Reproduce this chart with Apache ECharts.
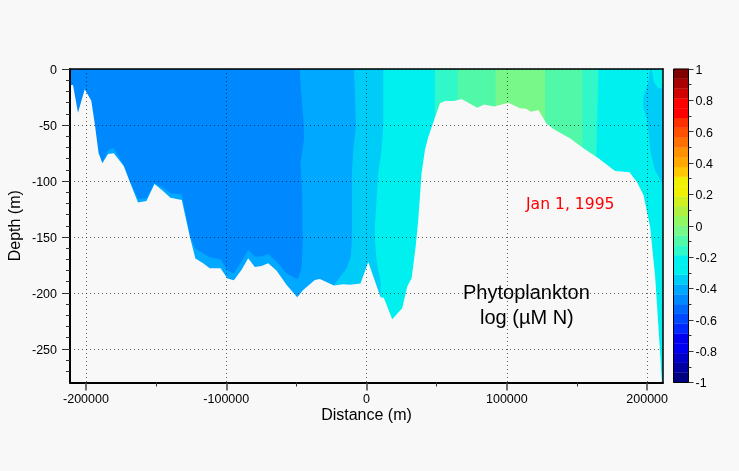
<!DOCTYPE html>
<html>
<head>
<meta charset="utf-8">
<style>html,body{margin:0;padding:0;background:#f8f8f8}#c{width:739px;height:471px}</style>
<script src="https://cdn.jsdelivr.net/npm/echarts@6/dist/echarts.min.js"></script>
</head>
<body>
<div id="c"></div>
<script>
// Axis ticks (data units)
var xMajorTicks = [-200000, -100000, 0, 100000, 200000];
var xMinorTicks = [-150000, -50000, 50000, 150000];
var yMajorTicks = [0, -50, -100, -150, -200, -250];
var yMinorTicks = [-10,-20,-30,-40,-60,-70,-80,-90,-110,-120,-130,-140,-160,-170,-180,-190,-210,-220,-230,-240,-260,-270];
var xMin = -211400, xMax = 211300, yMin = -280, yMax = 0;

// Sea floor (distance m, depth m)
var seaFloor = [[-212000,-14.3],[-209250,-14.3],[-205700,-39],[-200900,-18.1],[-196200,-28.3],[-193800,-48.5],[-191000,-75.3],[-188300,-84.2],[-184300,-75.9],[-180200,-75.3],[-173100,-86.6],[-168800,-100.6],[-162900,-119.3],[-156900,-117.8],[-151200,-102.7],[-145500,-108.6],[-139800,-114.9],[-131700,-117],[-126000,-149.7],[-122000,-169.3],[-116500,-173.5],[-111800,-178],[-104100,-178],[-99150,-187.2],[-94600,-188.7],[-89200,-179.5],[-84400,-169],[-79650,-176.8],[-74900,-175.9],[-70150,-173.5],[-64200,-180],[-57100,-192.8],[-49450,-203.9],[-45200,-197.3],[-36850,-188.4],[-33300,-187.5],[-23300,-193.4],[-16600,-192.2],[-11900,-192.8],[-4300,-191.6],[1200,-172.3],[10000,-203.9],[12350,-204.5],[18300,-223.5],[25400,-213.7],[29000,-194.3],[32100,-186.9],[35000,-158.6],[36850,-134.8],[39200,-93.2],[41600,-72.3],[44000,-60.4],[52300,-30.7],[55900,-28.6],[62300,-28.6],[67800,-26.8],[72500,-30.1],[78900,-34.5],[83900,-31.8],[90800,-33.6],[101100,-30.1],[109400,-35.1],[113700,-35.4],[117200,-38.1],[122500,-36.6],[128400,-49.1],[134300,-54.5],[145000,-61.9],[154550,-70.8],[165250,-79.8],[177150,-91.1],[187400,-92.3],[192600,-100.6],[197400,-112.5],[202100,-140.8],[205700,-185.4],[209250,-253.8],[210450,-279],[210450,-285],[-212000,-285]];

// Contour bands, painted in this order (distance m, depth m)
var bandBase = [[-212000,0],[212000,0],[212000,-285],[-212000,-285]];
var bandLow = [[-47550,0],[-47100,-12.8],[-45650,-36.6],[-44700,-50],[-44700,-63.4],[-47100,-84.2],[-45900,-111],[-45650,-158.6],[-46350,-178],[-48750,-186.9],[-49450,-187.5],[-57100,-182.4],[-64200,-172],[-70150,-165.2],[-74900,-167.5],[-79650,-167.5],[-84400,-161.6],[-89200,-172],[-94600,-182.4],[-99150,-180],[-104100,-170],[-111800,-168.1],[-116500,-164.6],[-122000,-160.4],[-126000,-148.2],[-131700,-111.9],[-139800,-111],[-145500,-105.6],[-151200,-102],[-156900,-115.5],[-162900,-115.8],[-168800,-99.7],[-173100,-85.7],[-180200,-70.8],[-184300,-72.3],[-188300,-83.6],[-191000,-74.7],[-195000,-60],[-212000,-60],[-212000,0]];
var bandMidA = [[-9030,0],[-8300,-21.7],[-7600,-50],[-9500,-72.3],[-10450,-93.2],[-10450,-151],[-11200,-167.5],[-14250,-178],[-23300,-193.4],[-23300,-285],[212000,-285],[212000,0]];
var bandMidB = [[11880,0],[11880,-50],[10700,-72.3],[8300,-93.2],[5900,-140.8],[5900,-152.7],[7100,-170.5],[10000,-190],[10000,-285],[212000,-285],[212000,0]];
var bandHighA = [[48700,0],[165250,0],[163600,-85],[48700,-85]];
var bandHighB = [[64900,0],[153850,0],[153850,-85],[64900,-85]];
var bandHighC = [[92000,0],[127200,0],[127200,-60],[92000,-60]];
var bandEdge = [[202100,0],[200900,-11.9],[197300,-25.3],[197300,-34.2],[199700,-44.6],[200900,-55],[202600,-75.9],[205650,-90.8],[211100,-102.7],[212000,-103],[212000,-17.9],[208000,-17],[204900,-11.9],[203500,-1.5],[204000,0]];

// Colour scale
var scaleMin = -1, scaleStep = 0.0625;
var scaleColors = ['#000080','#0000a0','#0000c8','#0000f0','#0000f0','#0028ff','#0048ff','#0068ff','#0088ff','#00a8ff','#00ccf8','#00f0f0','#00f0f0','#30f8c8','#50f8a8','#78f888','#90f860','#b0f040','#d0f020','#f0f000','#f0f000','#ffc800','#ffa800','#ff9000','#ff7000','#ff5000','#ff3000','#ff0000','#ff0000','#d00000','#a80000','#800000'];

function poly(points, color) {
  return {
    type: 'custom', coordinateSystem: 'cartesian2d', xAxisIndex: 0, yAxisIndex: 0,
    clip: true, silent: true, animation: false, data: points,
    renderItem: function (params, api) {
      if (params.dataIndex !== 0) return null;
      return { type: 'polygon',
        shape: { points: points.map(function (p) { return api.coord(p); }) },
        style: { fill: color } };
    }
  };
}
var scaleData = scaleColors.map(function (c, i) {
  return [scaleMin + i * scaleStep, scaleMin + (i + 1) * scaleStep];
});
var scaleSeries = {
  type: 'custom', coordinateSystem: 'cartesian2d', xAxisIndex: 3, yAxisIndex: 3,
  silent: true, animation: false, data: scaleData,
  encode: { y: [0, 1] },
  renderItem: function (params, api) {
    var a = api.coord([0, api.value(1)]), b = api.coord([1, api.value(0)]);
    return { type: 'rect', shape: { x: a[0], y: a[1], width: b[0] - a[0], height: b[1] - a[1] },
      style: { fill: scaleColors[params.dataIndex], stroke: scaleColors[params.dataIndex], lineWidth: 0.3 } };
  }
};
var scaleFrame = {
  type: 'custom', coordinateSystem: 'cartesian2d', xAxisIndex: 3, yAxisIndex: 3, z: 4,
  silent: true, animation: false, data: [[-1, 1]],
  renderItem: function (params, api) {
    var a = api.coord([0, 1]), b = api.coord([1, -1]);
    return { type: 'rect', shape: { x: a[0], y: a[1], width: b[0] - a[0], height: b[1] - a[1] },
      style: { fill: 'none', stroke: '#000', lineWidth: 1 } };
  }
};
var font = 'Liberation Sans, Arial, sans-serif';
var hidden = { show: false };
var option = {
  animation: false,
  backgroundColor: '#f8f8f8',
  grid: [
    { left: 70, top: 69, width: 593, height: 313.5, outerBoundsMode: 'none' },
    { left: 673.5, top: 69, width: 15, height: 313.5, outerBoundsMode: 'none' }
  ],
  xAxis: [
    { type: 'value', gridIndex: 0, position: 'bottom', min: xMin, max: xMax, z: 5,
      axisLine: { onZero: false, lineStyle: { color: '#000', width: 2 } },
      axisTick: { show: true, length: 8, customValues: xMajorTicks, lineStyle: { color: '#444', width: 1.5 } },
      axisLabel: { customValues: xMajorTicks, margin: 11, color: '#000', fontFamily: font, fontSize: 12.5, formatter: function (v) { return String(v); } },
      splitLine: { show: true, lineStyle: { type: [1, 3], color: 'rgba(0,0,0,0.6)', width: 1 } },
      name: 'Distance (m)', nameLocation: 'middle', nameGap: 25.5, nameMoveOverlap: false,
      nameTextStyle: { color: '#000', fontFamily: font, fontSize: 16 } },
    { type: 'value', gridIndex: 0, position: 'bottom', min: xMin, max: xMax, z: 5,
      axisLine: { show: false, onZero: false },
      axisTick: { show: true, length: 4, customValues: xMinorTicks, lineStyle: { color: '#333', width: 1 } },
      axisLabel: hidden, splitLine: hidden },
    { type: 'value', gridIndex: 0, position: 'top', min: xMin, max: xMax, z: 5,
      axisLine: { onZero: false, lineStyle: { color: '#000', width: 1.5 } },
      axisTick: hidden, axisLabel: hidden, splitLine: hidden },
    { type: 'value', gridIndex: 1, min: 0, max: 1, show: false }
  ],
  yAxis: [
    { type: 'value', gridIndex: 0, position: 'left', min: yMin, max: yMax, z: 5,
      axisLine: { onZero: false, lineStyle: { color: '#000', width: 2 } },
      axisTick: { show: true, length: 8, customValues: yMajorTicks, lineStyle: { color: '#333', width: 1 } },
      axisLabel: { customValues: yMajorTicks, margin: 13, verticalAlign: 'top', lineHeight: 3, color: '#000', fontFamily: font, fontSize: 12.5, formatter: function (v) { return String(v); } },
      splitLine: { show: true, lineStyle: { type: [1, 3], color: 'rgba(0,0,0,0.6)', width: 1 } },
      name: 'Depth (m)', nameLocation: 'middle', nameGap: 46.5, nameMoveOverlap: false,
      nameTextStyle: { color: '#000', fontFamily: font, fontSize: 16 } },
    { type: 'value', gridIndex: 0, position: 'left', min: yMin, max: yMax, z: 5,
      axisLine: { show: false, onZero: false },
      axisTick: { show: true, length: 4, customValues: yMinorTicks, lineStyle: { color: '#333', width: 1 } },
      axisLabel: hidden, splitLine: hidden },
    { type: 'value', gridIndex: 0, position: 'right', min: yMin, max: yMax, z: 5,
      axisLine: { onZero: false, lineStyle: { color: '#000', width: 1.5 } },
      axisTick: hidden, axisLabel: hidden, splitLine: hidden },
    { type: 'value', gridIndex: 1, position: 'right', min: -1, max: 1, interval: 0.2, z: 5,
      axisLine: { onZero: false, lineStyle: { color: '#000', width: 1 } },
      axisTick: { show: true, length: 5, lineStyle: { color: '#333' } },
      minorTick: { show: true, splitNumber: 2, length: 3, lineStyle: { color: '#333' } },
      axisLabel: { margin: 7, verticalAlign: 'top', lineHeight: 3, color: '#000', fontFamily: font, fontSize: 12.5 },
      splitLine: hidden, minorSplitLine: hidden }
  ],
  series: [
    poly(bandBase, '#00a8ff'),
    poly(bandMidA, '#00ccf8'),
    poly(bandMidB, '#00f0f0'),
    poly(bandHighA, '#30f8c8'),
    poly(bandHighB, '#50f8a8'),
    poly(bandHighC, '#78f888'),
    poly(bandLow, '#0088ff'),
    poly(bandEdge, '#00ccf8'),
    poly(seaFloor, '#f8f8f8'),
    scaleSeries,
    scaleFrame
  ],
  graphic: [
    { type: 'text', left: 526, top: 197, z: 10, style: { text: 'Jan 1, 1995', fill: '#ff0000', font: '15.6px "DejaVu Sans"' } },
    { type: 'text', left: 463, top: 283, z: 10, style: { text: 'Phytoplankton', fill: '#000', font: '20px "Liberation Sans"' } },
    { type: 'text', left: 480, top: 308, z: 10, style: { text: 'log (\u00b5M N)', fill: '#000', font: '20px "Liberation Sans"' } }
  ]
};
var chart = echarts.init(document.getElementById('c'), null, { renderer: 'canvas' });
chart.setOption(option);
</script>
</body>
</html>
